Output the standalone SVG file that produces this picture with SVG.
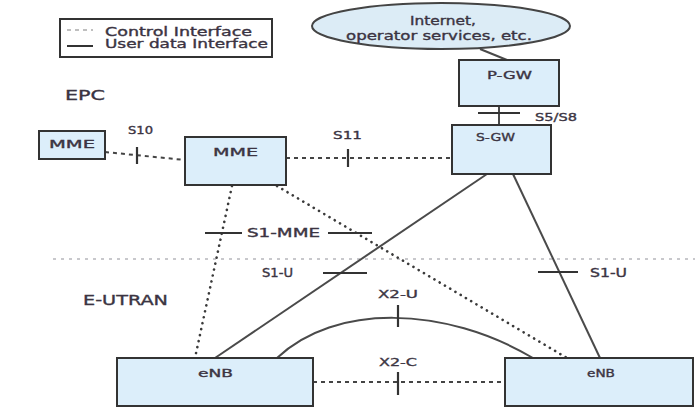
<svg xmlns="http://www.w3.org/2000/svg" width="695" height="408" viewBox="0 0 695 408">
  <style>
    .box { fill: #dceefa; stroke: #333; stroke-width: 2; }
    .cloud { fill: #dcecf6; stroke: #444; stroke-width: 2; }
    .lbl { font-family: "DejaVu Sans", "Liberation Sans", sans-serif; fill: #3b3442; stroke: #3b3442; stroke-width: 0.35; }
    .user { fill: none; stroke: #4a4a4a; stroke-width: 2; }
    .ctrl-dash { fill: none; stroke: #444; stroke-width: 2; stroke-dasharray: 4 4; }
    .ctrl-dot { fill: none; stroke: #3a3a3a; stroke-width: 2.6; stroke-dasharray: 0.1 6; stroke-linecap: round; }
    .tick { stroke: #333; stroke-width: 2.2; }
    .sep { stroke: #c8c8cc; stroke-width: 2; stroke-dasharray: 3 5; }
  </style>

  <rect width="695" height="408" fill="#ffffff"/>

  <!-- legend -->
  <g id="legend">
    <rect x="60" y="19" width="212" height="38" fill="#ffffff" stroke="#333" stroke-width="2"/>
    <line x1="67" y1="30" x2="93" y2="30" stroke="#aaa" stroke-width="1.5" stroke-dasharray="4 4"/>
    <line x1="67" y1="46" x2="93" y2="46" stroke="#333" stroke-width="2"/>
    <text class="lbl" x="105" y="35.5" font-size="11.5" textLength="147" lengthAdjust="spacingAndGlyphs">Control Interface</text>
    <text class="lbl" x="105" y="48" font-size="11.5" textLength="163" lengthAdjust="spacingAndGlyphs">User data Interface</text>
  </g>

  <!-- domain labels and separator -->
  <g id="domains">
    <text class="lbl" x="65" y="100" font-size="14" textLength="40" lengthAdjust="spacingAndGlyphs">EPC</text>
    <line class="sep" x1="53" y1="259" x2="695" y2="259"/>
    <text class="lbl" x="83" y="305" font-size="14" textLength="85" lengthAdjust="spacingAndGlyphs">E-UTRAN</text>
  </g>

  <!-- connectors -->
  <g id="connectors">
    <!-- cloud to P-GW -->
    <line class="user" x1="480" y1="49" x2="507" y2="60"/>
    <!-- S5/S8 -->
    <line class="user" x1="499" y1="106" x2="499" y2="125"/>
    <line class="tick" x1="478" y1="113" x2="520" y2="113"/>
    <!-- S10 -->
    <line class="ctrl-dash" x1="105" y1="152" x2="185" y2="160"/>
    <line class="tick" x1="137" y1="147" x2="137" y2="164"/>
    <!-- S11 -->
    <line class="ctrl-dash" x1="286" y1="158" x2="452" y2="158"/>
    <line class="tick" x1="348" y1="149" x2="348" y2="167"/>
    <!-- S1-MME -->
    <line class="ctrl-dot" x1="232" y1="186" x2="195" y2="358"/>
    <line class="ctrl-dot" x1="277" y1="186" x2="567" y2="358"/>
    <line class="tick" x1="205" y1="233" x2="242" y2="233"/>
    <line class="tick" x1="328" y1="233" x2="372" y2="233"/>
    <!-- S1-U -->
    <line class="user" x1="487" y1="174" x2="215" y2="358"/>
    <line class="user" x1="513" y1="174" x2="600" y2="358"/>
    <line class="tick" x1="323" y1="273" x2="367" y2="273"/>
    <line class="tick" x1="538" y1="272" x2="578" y2="272"/>
    <!-- X2-U -->
    <path class="user" d="M277,358 C335,303 445,306 533,358"/>
    <line class="tick" x1="398" y1="305" x2="398" y2="327"/>
    <!-- X2-C -->
    <line class="ctrl-dash" x1="313" y1="382" x2="505" y2="382"/>
    <line class="tick" x1="398" y1="372" x2="398" y2="395"/>

    <!-- interface labels -->
    <text class="lbl" x="128" y="134" font-size="11" textLength="25" lengthAdjust="spacingAndGlyphs">S10</text>
    <text class="lbl" x="333" y="138.5" font-size="11" textLength="29" lengthAdjust="spacingAndGlyphs">S11</text>
    <text class="lbl" x="535" y="121" font-size="11" textLength="42" lengthAdjust="spacingAndGlyphs">S5/S8</text>
    <text class="lbl" x="247" y="237" font-size="12" textLength="73" lengthAdjust="spacingAndGlyphs">S1-MME</text>
    <text class="lbl" x="262" y="277" font-size="12" textLength="31" lengthAdjust="spacingAndGlyphs">S1-U</text>
    <text class="lbl" x="590" y="277" font-size="12" textLength="37" lengthAdjust="spacingAndGlyphs">S1-U</text>
    <text class="lbl" x="378" y="298" font-size="11" textLength="40" lengthAdjust="spacingAndGlyphs">X2-U</text>
    <text class="lbl" x="379" y="366" font-size="11" textLength="38" lengthAdjust="spacingAndGlyphs">X2-C</text>
  </g>

  <!-- nodes -->
  <g id="internet">
    <ellipse class="cloud" cx="441" cy="26" rx="129" ry="23"/>
    <text class="lbl" x="410" y="25" font-size="11.5" textLength="66" lengthAdjust="spacingAndGlyphs">Internet,</text>
    <text class="lbl" x="346" y="40" font-size="11.5" textLength="186" lengthAdjust="spacingAndGlyphs">operator services, etc.</text>
  </g>

  <g id="pgw">
    <rect class="box" x="459" y="60" width="100" height="46"/>
    <text class="lbl" x="487" y="79" font-size="11" textLength="45" lengthAdjust="spacingAndGlyphs">P-GW</text>
  </g>

  <g id="sgw">
    <rect class="box" x="452" y="125" width="99" height="49"/>
    <text class="lbl" x="476" y="141" font-size="11" textLength="39" lengthAdjust="spacingAndGlyphs">S-GW</text>
  </g>

  <g id="mme-peer">
    <rect class="box" x="39" y="131" width="66" height="28"/>
    <text class="lbl" x="49" y="148" font-size="11" textLength="46" lengthAdjust="spacingAndGlyphs">MME</text>
  </g>

  <g id="mme">
    <rect class="box" x="185" y="137" width="101" height="48"/>
    <text class="lbl" x="213" y="156" font-size="11" textLength="45" lengthAdjust="spacingAndGlyphs">MME</text>
  </g>

  <g id="enb-left">
    <rect class="box" x="117" y="358" width="196" height="48"/>
    <text class="lbl" x="198" y="377" font-size="11" textLength="35" lengthAdjust="spacingAndGlyphs">eNB</text>
  </g>

  <g id="enb-right">
    <rect class="box" x="505" y="358" width="188" height="48"/>
    <text class="lbl" x="587" y="377" font-size="11" textLength="28" lengthAdjust="spacingAndGlyphs">eNB</text>
  </g>
</svg>
